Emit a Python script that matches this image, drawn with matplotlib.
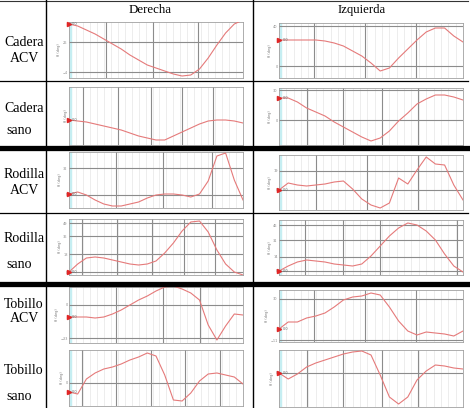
import matplotlib
matplotlib.use("Agg")
import matplotlib.pyplot as plt
from matplotlib.ticker import MultipleLocator

# % del ciclo de marcha (comun a todas las curvas)
ciclo = list(range(0, 101, 5))

# angulos articulares (grados aprox.), lado derecho
cadera_acv_der = [44, 42, 38, 34, 29, 24, 19, 13, 8, 3, 0, -3, -6, -8, -7, -1, 10, 23, 35, 44, 48]
cadera_sano_der = [10, 9, 8, 6, 4, 2, 0, -3, -6, -8, -10, -10, -6, -2, 2, 6, 9, 10, 10, 9, 7]
rodilla_acv_der = [6, 8, 5, 0, -4, -6, -6, -4, -2, 2, 5, 6, 6, 5, 3, 6, 19, 44, 47, 20, 0]
rodilla_sano_der = [0, 8, 14, 15, 14, 12, 10, 8, 7, 8, 11, 19, 29, 41, 50, 51, 40, 22, 8, 0, -3]
tobillo_acv_der = [-12, -12, -12, -13, -12, -9, -5, 0, 5, 9, 14, 18, 19, 16, 12, 5, -20, -35, -21, -9, -10]
tobillo_sano_der = [-9, -11, 4, 10, 14, 16, 19, 23, 26, 30, 27, 8, -17, -18, -10, 2, 9, 10, 8, 6, -1]

# lado izquierdo
cadera_acv_izq = [26, 26, 26, 26, 26, 25, 23, 20, 15, 10, 3, -5, -2, 8, 17, 26, 34, 38, 38, 30, 24]
cadera_sano_izq = [22, 22, 18, 12, 8, 4, -2, -7, -12, -17, -21, -18, -11, -1, 7, 16, 21, 25, 25, 23, 20]
rodilla_acv_izq = [0, 7, 5, 4, 5, 6, 8, 9, 1, -9, -15, -18, -13, 12, 6, 20, 33, 26, 25, 5, -10]
rodilla_sano_izq = [0, 5, 9, 11, 10, 9, 7, 6, 5, 7, 15, 25, 35, 43, 48, 46, 40, 31, 17, 5, -1]
tobillo_acv_izq = [0, 7, 7, 11, 13, 16, 22, 29, 32, 33, 36, 34, 22, 8, -2, -6, -3, -4, -5, -7, -2]
tobillo_sano_izq = [0, -6, -1, 6, 10, 13, 16, 19, 21, 22, 18, -2, -24, -31, -24, -7, 2, 8, 7, 5, 4]

W, H = 470, 408
fig = plt.figure(figsize=(W / 100, H / 100), dpi=100)
fig.patch.set_facecolor("white")

# (serie, caja en px [x0, y0, x1, y1], ylim, lineas horizontales, lineas verticales)
paneles = [
    (cadera_acv_der, (69, 22, 243, 78), (-10, 46), [-4, 26], [21, 48, 74]),
    (cadera_sano_der, (69, 87, 243, 145), (-15, 43), [], [8, 28, 47, 65, 83]),
    (rodilla_acv_der, (69, 152, 243, 208), (-8, 48), [5, 32], [27, 54, 82]),
    (rodilla_sano_der, (69, 219, 243, 275), (-3, 53), [0, 18, 36, 49], [7.5, 27.6, 47.7, 66, 84]),
    (tobillo_acv_der, (69, 287, 243, 343), (-38, 18), [-33, 0], [27, 54, 75]),
    (tobillo_sano_der, (69, 350, 243, 406), (-23, 33), [0], [7.5, 27, 47, 66.7, 86.8]),
    (cadera_acv_izq, (279, 23, 463, 78), (-12, 43), [0, 40], [19, 46.7, 74.5]),
    (cadera_sano_izq, (279, 88, 463, 145), (-25, 32), [0, 30], [15, 35, 56, 75.5]),
    (rodilla_acv_izq, (279, 155, 463, 210), (-20, 35), [0, 19], [20, 48, 75.5]),
    (rodilla_sano_izq, (279, 220, 463, 275), (-4, 51), [0, 14, 31, 46], [14, 35, 55, 96.7]),
    (tobillo_acv_izq, (279, 290, 463, 342), (-13, 39), [-11, 30], [19, 46.7, 74.5]),
    (tobillo_sano_izq, (279, 350, 463, 407), (-34, 23), [0], [15, 35, 56, 75.5]),
]

for serie, (x0, y0, x1, y1), ylim, hlin, vlin in paneles:
    ax = fig.add_axes([x0 / W, 1 - y1 / H, (x1 - x0) / W, (y1 - y0) / H])
    ax.set_xlim(0, 100)
    ax.set_ylim(*ylim)
    ax.set_xticks(vlin)
    ax.set_yticks(hlin)
    ax.xaxis.set_minor_locator(MultipleLocator(4))
    ax.grid(which="major", color="#8c8c8c", lw=0.8)
    ax.grid(which="minor", axis="x", color="#e6e6e6", lw=0.5)
    ax.tick_params(which="both", length=0)
    ax.tick_params(labelbottom=False, labelsize=2.5, labelcolor="#888888", pad=1)
    for s in ax.spines.values():
        s.set_color("#a0a0a0")
        s.set_linewidth(0.6)
    ax.axvspan(0, 1.2, color="#c6eef2", zorder=1)
    ax.plot(ciclo, serie, color="#e57a7a", lw=0.8, zorder=3)
    ax.plot(0, serie[0], marker=">", color="#e02525", ms=3, clip_on=False, zorder=4)
    ax.text(1.8, serie[0], "0.0", fontsize=2.5, color="#666666", va="center")
    ax.set_ylabel("θ (deg)", fontsize=2.5, color="#777777", labelpad=1)

# capa superior con la tabla
tab = fig.add_axes([0, 0, 1, 1], zorder=10)
tab.set_xlim(0, W)
tab.set_ylim(H, 0)
tab.axis("off")
tab.patch.set_alpha(0)

tab.plot([0, 468], [1, 1], color="#333333", lw=0.8)
tab.plot([46, 46], [0, H], color="black", lw=1.0)
tab.plot([253, 253], [0, H], color="black", lw=1.0)
tab.plot([0, 468], [81, 81], color="black", lw=0.9)
tab.plot([0, 468], [213, 213], color="black", lw=0.9)
tab.plot([0, 468], [147.5, 147.5], color="black", lw=3.8)
tab.plot([0, 468], [283.5, 283.5], color="black", lw=3.8)

serif = "Liberation Serif"
tab.text(150, 10, "Derecha", fontsize=9.3, family=serif, ha="center", va="center")
tab.text(362, 10, "Izquierda", fontsize=9.2, family=serif, ha="center", va="center")

etiquetas = [
    ("Cadera", 24, 43), ("ACV", 24, 58),
    ("Cadera", 24, 108), ("sano", 19, 130),
    ("Rodilla", 24, 174), ("ACV", 24, 190),
    ("Rodilla", 24, 239), ("sano", 19, 264),
    ("Tobillo", 24, 305), ("ACV", 24, 318),
    ("Tobillo", 24, 370), ("sano", 19, 397),
]
for txt, x, y in etiquetas:
    tab.text(x, y, txt, fontsize=10, family=serif, ha="center", va="center")

fig.savefig("out.png", dpi=100)
